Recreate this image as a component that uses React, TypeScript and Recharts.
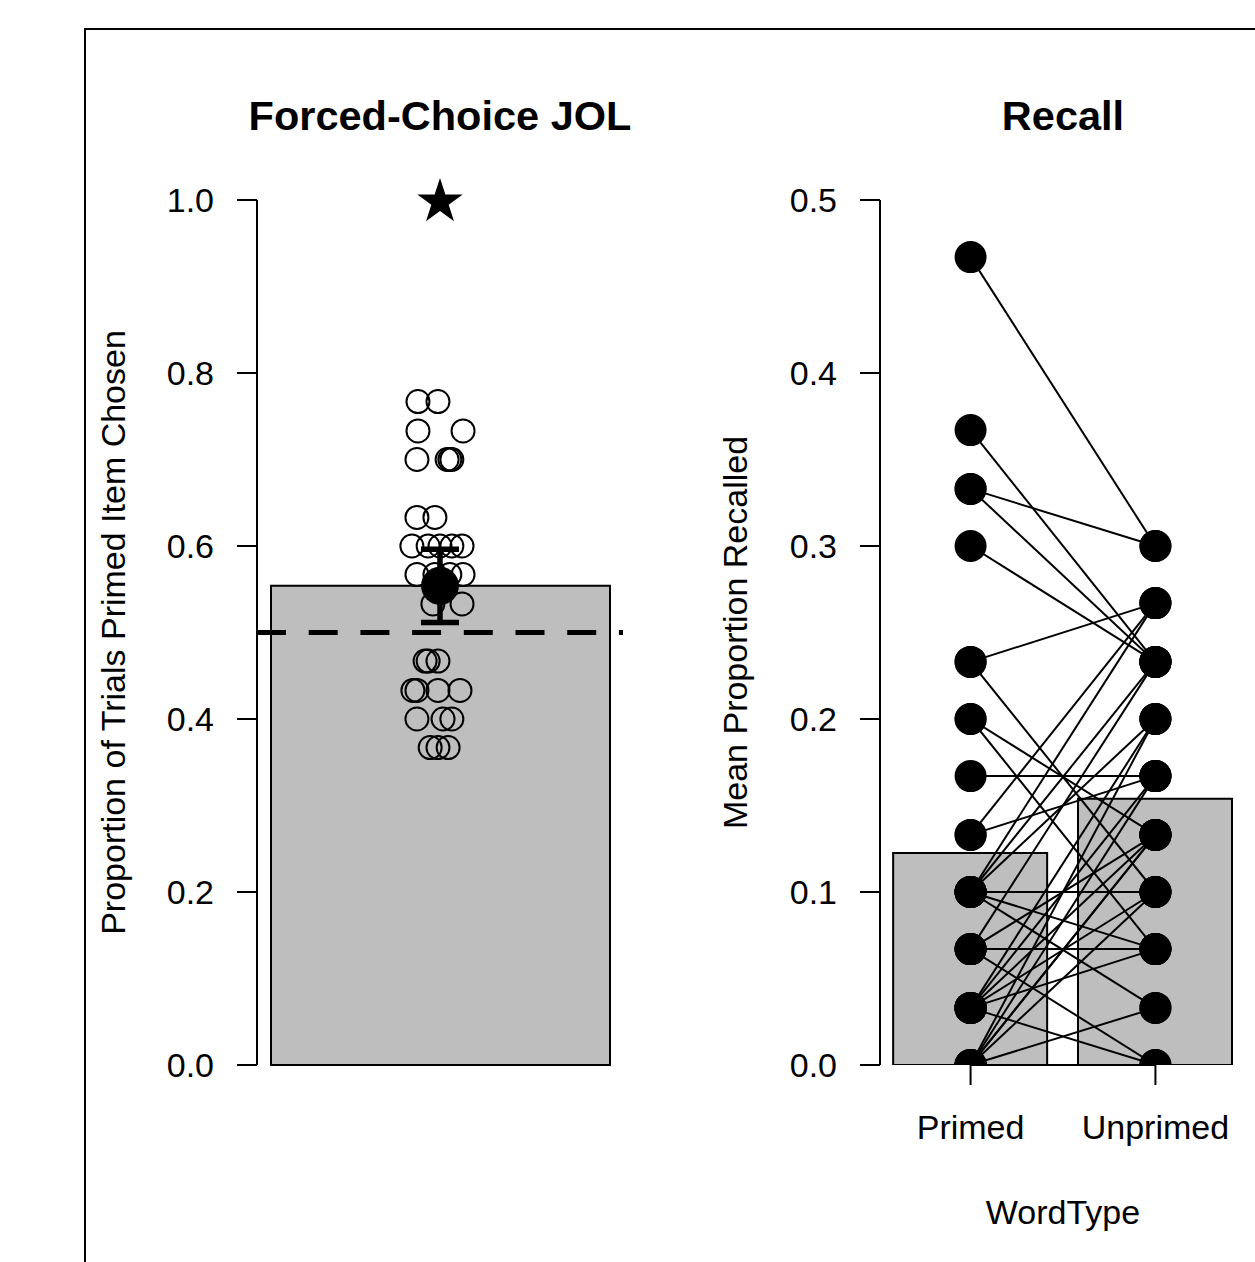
import React from "react";
import {
  ComposedChart,
  Bar,
  Scatter,
  Line,
  XAxis,
  YAxis,
  ReferenceLine,
  ErrorBar,
  Symbols,
} from "recharts";

const FONT = '"Liberation Sans", Arial, Helvetica, sans-serif';

// --- Forced-choice JOL: proportion of trials the primed item was chosen (one per participant)
const jolProportion = [
  0.767, 0.767,
  0.733, 0.733,
  0.7, 0.7, 0.7, 0.7,
  0.633, 0.633,
  0.6, 0.6, 0.6, 0.6, 0.6,
  0.567, 0.567, 0.567, 0.567,
  0.533, 0.533,
  0.467, 0.467, 0.467,
  0.433, 0.433, 0.433, 0.433,
  0.4, 0.4, 0.4,
  0.367, 0.367, 0.367,
];
// horizontal jitter of each open circle, in bar widths around the bar centre
const jolJitter = [
  -0.065, -0.006,
  -0.065, 0.068,
  -0.068, 0.021, 0.029, 0.035,
  -0.068, -0.015,
  -0.083, -0.035, 0.0, 0.035, 0.065,
  -0.068, -0.015, 0.029, 0.068,
  -0.021, 0.065,
  -0.044, -0.035, -0.006,
  -0.08, -0.068, -0.006, 0.059,
  -0.068, 0.009, 0.035,
  -0.029, -0.006, 0.024,
];
const chanceLevel = 0.5;
const starLevel = 1.0;
const jolTicks = [0, 0.2, 0.4, 0.6, 0.8, 1.0];

// --- Recall: mean proportion recalled per participant (paired by index)
const wordTypes = ["Primed", "Unprimed"];
const recallPrimed = [
  0.467, 0.367, 0.333, 0.333, 0.3, 0.233, 0.233, 0.2, 0.2, 0.167, 0.133, 0.133,
  0.1, 0.1, 0.1, 0.1, 0.1, 0.1,
  0.067, 0.067, 0.067, 0.067,
  0.033, 0.033, 0.033, 0.033, 0.033, 0.033,
  0, 0, 0, 0, 0, 0,
];
const recallUnprimed = [
  0.3, 0.233, 0.3, 0.233, 0.233, 0.267, 0.1, 0.133, 0.067, 0.167, 0.267, 0.167,
  0.267, 0.233, 0.2, 0.1, 0.067, 0.033,
  0.233, 0.133, 0.067, 0,
  0.2, 0.167, 0.133, 0.1, 0.067, 0,
  0.2, 0.167, 0.133, 0.133, 0.1, 0.033,
];
const recallTicks = [0, 0.1, 0.2, 0.3, 0.4, 0.5];

const mean = (a: number[]) => a.reduce((s, v) => s + v, 0) / a.length;
const sd = (a: number[]) => {
  const m = mean(a);
  return Math.sqrt(a.reduce((s, v) => s + (v - m) ** 2, 0) / (a.length - 1));
};

const jolMean = mean(jolProportion);
const jolCI = (1.96 * sd(jolProportion)) / Math.sqrt(jolProportion.length);

const jolBar = [{ label: "JOL", y: jolMean }];
const jolPoints = jolProportion.map((y, i) => ({ x: 1 + jolJitter[i], y }));
const jolMeanPoint = [{ x: 1, y: jolMean, err: jolCI }];
const jolStar = [{ x: 1, y: starLevel }];

const recallBars = [
  { x: 1, y: mean(recallPrimed) },
  { x: 2, y: mean(recallUnprimed) },
];
const recallPairs = recallPrimed.map((p, i) => [
  { x: 1, y: p },
  { x: 2, y: recallUnprimed[i] },
]);
const recallDots = recallPairs.flat();

const tickStyle = { fill: "#000", fontSize: 34, fontFamily: FONT };
const axisStroke = { stroke: "#000", strokeWidth: 2 };
const fmt1 = (v: number) => v.toFixed(1);

const OpenCircle = (p: any) => (
  <circle cx={p.cx} cy={p.cy} r={11.5} fill="none" stroke="#000" strokeWidth={2} />
);
const MeanDot = (p: any) => <circle cx={p.cx} cy={p.cy} r={19} fill="#000" />;
const FilledDot = (p: any) => <circle cx={p.cx} cy={p.cy} r={16} fill="#000" />;
const Star = (p: any) => (
  <Symbols cx={p.cx} cy={p.cy + 2} type="star" size={640} sizeType="area" fill="#000" />
);

const yLabel = (value: string) => ({
  value,
  angle: -90,
  position: "insideLeft" as const,
  offset: 5,
  style: { textAnchor: "middle", fill: "#000", fontSize: 34, fontFamily: FONT },
});

const titleStyle: React.CSSProperties = {
  position: "absolute",
  width: 600,
  top: 95,
  textAlign: "center",
  fontSize: 41.5,
  lineHeight: "41px",
  fontWeight: "bold",
};

export default function App() {
  return (
    <div
      style={{
        position: "fixed",
        left: 0,
        top: 0,
        width: 1255,
        height: 1262,
        overflow: "hidden",
        background: "#fff",
        fontFamily: FONT,
      }}
    >
      <div
        style={{
          position: "absolute",
          left: 84,
          top: 28,
          width: 1300,
          height: 1300,
          borderLeft: "2px solid #000",
          borderTop: "2px solid #000",
        }}
      />
      <div style={{ ...titleStyle, left: 140 }}>Forced-Choice JOL</div>
      <div style={{ ...titleStyle, left: 763 }}>Recall</div>
      <div
        style={{
          position: "absolute",
          left: 863,
          width: 400,
          top: 1195,
          textAlign: "center",
          fontSize: 34,
          lineHeight: "34px",
        }}
      >
        WordType
      </div>

      {/* left panel */}
      <div style={{ position: "absolute", left: 0, top: 0 }}>
        <ComposedChart
          width={660}
          height={1262}
          data={jolBar}
          margin={{ top: 200, right: 37, bottom: 197, left: 108 }}
        >
          <XAxis xAxisId="cat" type="category" dataKey="label" hide />
          <XAxis xAxisId="num" type="number" dataKey="x" domain={[0.46, 1.54]} hide />
          <YAxis
            type="number"
            domain={[0, 1]}
            ticks={jolTicks}
            interval={0}
            tickFormatter={fmt1}
            tickSize={20}
            tickMargin={23}
            width={149}
            tick={tickStyle}
            axisLine={axisStroke}
            tickLine={axisStroke}
            label={yLabel("Proportion of Trials Primed Item Chosen")}
          />
          <Bar
            xAxisId="cat"
            dataKey="y"
            barSize={339}
            fill="#bebebe"
            stroke="#000"
            strokeWidth={2}
            isAnimationActive={false}
          />
          <ReferenceLine
            xAxisId="num"
            y={chanceLevel}
            stroke="#000"
            strokeWidth={5}
            strokeDasharray="29 22.7"
          />
          <Scatter
            xAxisId="num"
            data={jolPoints}
            dataKey="y"
            shape={OpenCircle}
            isAnimationActive={false}
          />
          <Scatter
            xAxisId="num"
            data={jolMeanPoint}
            dataKey="y"
            shape={MeanDot}
            isAnimationActive={false}
          >
            <ErrorBar
              dataKey="err"
              direction="y"
              width={19}
              stroke="#000"
              strokeWidth={5.5}
              isAnimationActive={false}
            />
          </Scatter>
          <Scatter
            xAxisId="num"
            data={jolStar}
            dataKey="y"
            shape={Star}
            isAnimationActive={false}
          />
        </ComposedChart>
      </div>

      {/* right panel */}
      <div style={{ position: "absolute", left: 660, top: 0 }}>
        <ComposedChart
          width={595}
          height={1262}
          data={recallBars}
          margin={{ top: 200, right: 9, bottom: 137, left: 70 }}
        >
          <XAxis
            type="number"
            dataKey="x"
            domain={[0.51, 2.49]}
            ticks={[1, 2]}
            interval={0}
            tickFormatter={(v: number) => wordTypes[v - 1]}
            tickSize={20}
            tickMargin={30}
            height={60}
            tick={tickStyle}
            axisLine={false}
            tickLine={axisStroke}
          />
          <YAxis
            type="number"
            domain={[0, 0.5]}
            allowDataOverflow
            ticks={recallTicks}
            interval={0}
            tickFormatter={fmt1}
            tickSize={20}
            tickMargin={23}
            width={150}
            tick={tickStyle}
            axisLine={axisStroke}
            tickLine={axisStroke}
            label={yLabel("Mean Proportion Recalled")}
          />
          <Bar
            dataKey="y"
            barSize={154}
            fill="#bebebe"
            stroke="#000"
            strokeWidth={2}
            isAnimationActive={false}
          />
          <ReferenceLine
            segment={[
              { x: 1, y: 0 },
              { x: 2, y: 0 },
            ]}
            stroke="#000"
            strokeWidth={2}
          />
          {recallPairs.map((pair, i) => (
            <Line
              key={i}
              data={pair}
              dataKey="y"
              type="linear"
              stroke="#000"
              strokeWidth={2}
              dot={false}
              activeDot={false}
              isAnimationActive={false}
            />
          ))}
          <Scatter data={recallDots} dataKey="y" shape={FilledDot} isAnimationActive={false} />
        </ComposedChart>
      </div>
    </div>
  );
}
